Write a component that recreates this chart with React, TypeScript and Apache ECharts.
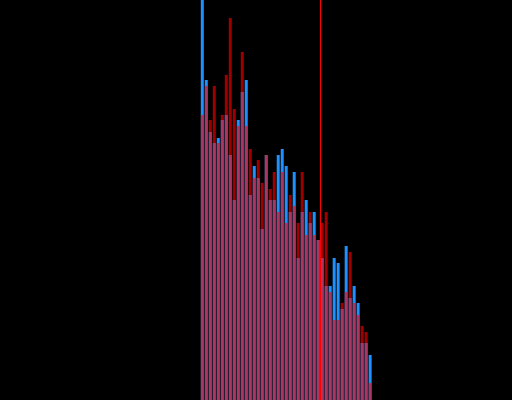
import React, { useEffect, useRef } from "react";
import * as echarts from "echarts";

// histogram bins (left edges)
const bins = [
  50, 51, 52, 53, 54, 55, 56, 57, 58, 59, 60, 61, 62, 63, 64, 65, 66, 67, 68, 69, 70,
  71, 72, 73, 74, 75, 76, 77, 78, 79, 80, 81, 82, 83, 84, 85, 86, 87, 88, 89, 90, 91, 92,
];

const blueCounts = [
  105, 80, 67, 64.25, 65.5, 70, 71.25, 61.25, 50, 70, 77, 80, 51.25, 58.5, 55.5, 42.75,
  61.25, 50, 50, 61.25, 62.75, 58.5, 47, 57, 35.5, 47, 50, 44.25, 47, 40, 35.5, 28.5, 28.5,
  35.5, 34.25, 22.75, 38.5, 25.5, 28.5, 24.25, 14.25, 14.25, 11.25,
];

const redCounts = [
  71.25, 78.5, 70, 78.5, 64.25, 71.25, 81.25, 95.5, 72.75, 68.5, 87, 68.5, 62.75, 55.5, 60,
  54.25, 61.25, 52.75, 57, 47, 57, 44.25, 51.25, 48.5, 44.25, 57, 41.25, 47, 41.25, 40,
  44.25, 47, 27, 20, 20, 24.25, 27, 37, 24.25, 21.25, 18.5, 17, 4.25,
];

const markerValue = 80;

export default function App() {
  const ref = useRef<HTMLDivElement>(null);

  useEffect(() => {
    if (!ref.current) return;
    const chart = echarts.init(ref.current, undefined, { renderer: "svg" });
    const blueData = bins.map((b, i) => [b + 0.5, blueCounts[i]]);
    const redData = bins.map((b, i) => [b + 0.5, redCounts[i]]);
    chart.setOption({
      animation: false,
      backgroundColor: "#000000",
      grid: { left: 0.5, right: -0.5, top: 0, bottom: 0, containLabel: false },
      xAxis: {
        type: "value",
        min: 0,
        max: 128,
        show: false,
        splitLine: { show: false },
      },
      yAxis: {
        type: "value",
        min: 0,
        max: 100,
        show: false,
        splitLine: { show: false },
      },
      series: [
        {
          type: "bar",
          name: "blue",
          data: blueData,
          barWidth: 3,
          barGap: "-100%",
          itemStyle: { color: "#1E90FF" },
          markLine: {
            silent: true,
            symbol: "none",
            label: { show: false },
            lineStyle: { color: "#ff0000", width: 1, type: "solid", opacity: 1 },
            data: [{ xAxis: markerValue }],
          },
        },
        {
          type: "bar",
          name: "red",
          data: redData,
          barWidth: 3,
          barGap: "-100%",
          itemStyle: { color: "#ff0000", opacity: 0.62 },
        },
      ],
    });
    return () => chart.dispose();
  }, []);

  return (
    <div
      ref={ref}
      style={{ position: "fixed", left: 0, top: 0, width: 512, height: 400 }}
    />
  );
}
